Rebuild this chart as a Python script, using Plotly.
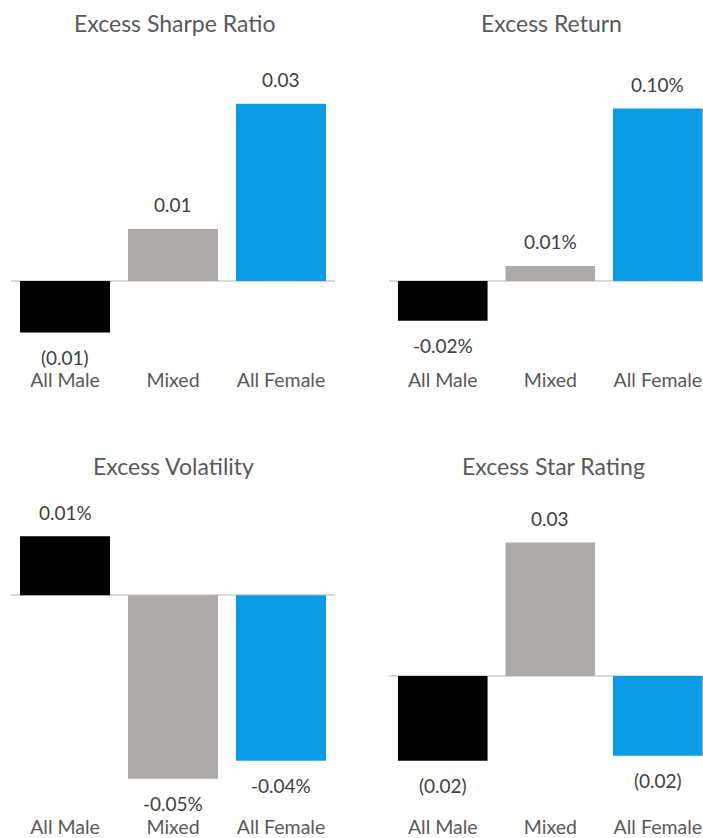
import plotly.graph_objects as go

# ---- data ----
categories = ["All Male", "Mixed", "All Female"]
sharpe = [-0.0087, 0.0088, 0.030]
excess_return = [-0.023, 0.0087, 0.100]
volatility = [0.0148, -0.0460, -0.0415]
star_rating = [-0.019, 0.030, -0.0179]
titles = ["Excess Sharpe Ratio", "Excess Return", "Excess Volatility", "Excess Star Rating"]
bar_colors = ["#000000", "#AEAAAA", "#0B9CE5"]

W, H = 703, 838
FONT = "Lato"


def fmt_num(v):
    return f"({abs(v):.2f})" if v < 0 else f"{v:.2f}"


def fmt_pct(v):
    return f"{v:.2f}%"


# panel layout: (values, formatter, x domain px, x range, top px, bottom px, zero px, px per unit, title center px)
panels = [
    (sharpe, fmt_num, (11, 335), [-0.5, 2.5], 40, 368, 282, 178 / 0.030, (175, 23)),
    (excess_return, fmt_pct, (389, 703), [-0.5, 2.42], 40, 368, 282, 173 / 0.10, (551, 23)),
    (volatility, fmt_pct, (11, 335), [-0.5, 2.5], 485, 816.5, 597.5, 184 / 0.046, (173, 468)),
    (star_rating, fmt_num, (389, 703), [-0.5, 2.42], 485, 816.5, 678.5, 134 / 0.030, (553, 468)),
]

fig = go.Figure()
annotations = []
layout = {}
for i, (vals, fmt, xd, xr, top, bot, zero, scale, tpos) in enumerate(panels):
    n = "" if i == 0 else str(i + 1)
    xa, ya = "x" + n, "y" + n
    fig.add_trace(go.Bar(
        x=categories, y=vals, marker=dict(color=bar_colors, line=dict(width=0)),
        xaxis=xa, yaxis=ya, showlegend=False, hoverinfo="x+y",
    ))
    ymin = -(bot - zero) / scale
    ymax = (zero - top) / scale
    layout["xaxis" + n] = dict(
        domain=[xd[0] / W, xd[1] / W], range=xr, anchor=ya, type="category",
        showgrid=False, zeroline=False, showline=False, ticks="",
        tickfont=dict(family=FONT, size=19.5, color="#595959"), fixedrange=True,
    )
    layout["yaxis" + n] = dict(
        domain=[1 - bot / H, 1 - top / H], range=[ymin, ymax], anchor=xa,
        showgrid=False, showticklabels=False, ticks="", showline=False,
        zeroline=True, zerolinecolor="#D9D9D9", zerolinewidth=1.5, fixedrange=True,
    )
    for c, v in zip(categories, vals):
        annotations.append(dict(
            x=c, y=v, xref=xa, yref=ya, text=fmt(v), showarrow=False,
            yshift=24 if v >= 0 else -25, yanchor="middle", borderpad=0,
            font=dict(family=FONT, size=19, color="#404040"),
        ))
    annotations.append(dict(
        x=tpos[0] / W, y=1 - tpos[1] / H, xref="paper", yref="paper",
        text=titles[i], showarrow=False, xanchor="center", yanchor="middle",
        font=dict(family=FONT, size=23, color="#595959"),
    ))

fig.update_layout(
    width=W, height=H, margin=dict(l=0, r=0, t=0, b=0),
    paper_bgcolor="white", plot_bgcolor="white",
    bargap=18 / 108, annotations=annotations, **layout,
)
fig.write_html("out.html")
